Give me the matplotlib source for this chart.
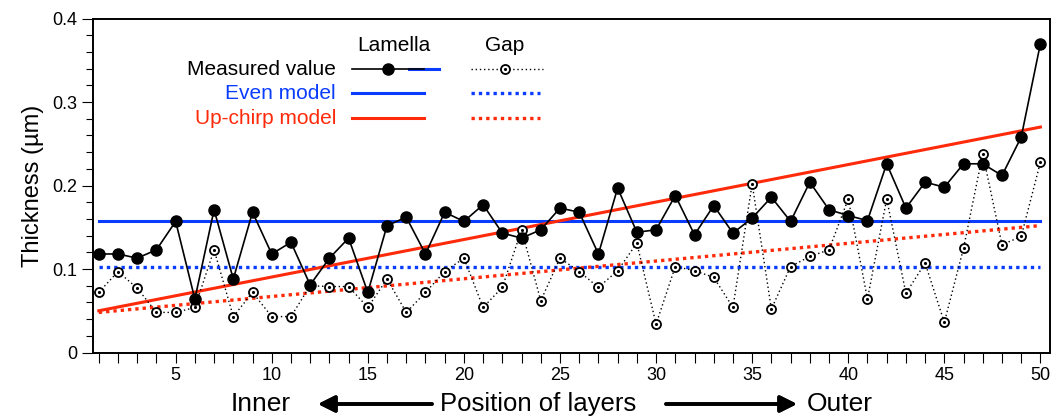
import matplotlib.pyplot as plt
import numpy as np
from matplotlib.ticker import MultipleLocator

plt.rcParams['font.family'] = ['Liberation Sans', 'DejaVu Sans']

# layer positions, innermost = 1
layers = np.arange(1, 51)

lamella = [0.118, 0.118, 0.113, 0.123, 0.157, 0.064, 0.171, 0.088, 0.168, 0.118,
           0.132, 0.081, 0.113, 0.137, 0.072, 0.152, 0.162, 0.118, 0.168, 0.157,
           0.177, 0.143, 0.137, 0.147, 0.173, 0.168, 0.118, 0.197, 0.144, 0.147,
           0.188, 0.141, 0.176, 0.143, 0.161, 0.186, 0.157, 0.204, 0.171, 0.164,
           0.158, 0.226, 0.173, 0.204, 0.198, 0.226, 0.226, 0.212, 0.258, 0.370]

gap = [0.072, 0.097, 0.077, 0.048, 0.048, 0.054, 0.123, 0.043, 0.072, 0.043,
       0.043, 0.080, 0.079, 0.079, 0.054, 0.088, 0.048, 0.072, 0.097, 0.113,
       0.054, 0.078, 0.147, 0.062, 0.113, 0.097, 0.078, 0.098, 0.131, 0.034,
       0.103, 0.098, 0.090, 0.054, 0.202, 0.052, 0.103, 0.115, 0.123, 0.184,
       0.064, 0.184, 0.071, 0.107, 0.036, 0.125, 0.238, 0.129, 0.139, 0.228]

# model values at first and last layer
even_lamella = [0.158, 0.158]
even_gap = [0.102, 0.102]
chirp_lamella = [0.050, 0.270]
chirp_gap = [0.048, 0.152]
model_x = [1, 50]

BLUE = '#0a3cff'
RED = '#ff2a0a'

fig = plt.figure(figsize=(10.63, 4.19), dpi=100)
ax = fig.add_axes([0.0875, 0.1587, 0.9003, 0.7971])

dot = (0, (1, 1.2))

# models
ax.plot(model_x, even_lamella, color=BLUE, lw=2.2, zorder=2)
ax.plot(model_x, even_gap, color=BLUE, lw=2.4, ls=dot, zorder=2)
ax.plot(model_x, chirp_lamella, color=RED, lw=2.2, zorder=2)
ax.plot(model_x, chirp_gap, color=RED, lw=2.4, ls=dot, zorder=2)

# measured gap: open circles with centre dot
ax.plot(layers, gap, color='black', lw=1.0, ls=(0, (1, 2)), marker='o',
        ms=6.5, mfc='white', mec='black', mew=1.3, zorder=3)
ax.plot(layers, gap, ls='none', marker='.', ms=2.5, color='black', zorder=3.5)

# measured lamella
ax.plot(layers, lamella, color='black', lw=1.2, marker='o', ms=8, zorder=4)

ax.set_xlim(0.7, 50.5)
ax.set_ylim(0, 0.4)
ax.set_xticks(np.arange(5, 51, 5))
ax.set_xticks(layers, minor=True)
ax.set_yticks([0, 0.1, 0.2, 0.3, 0.4])
ax.set_yticklabels(['0', '0.1', '0.2', '0.3', '0.4'])
ax.yaxis.set_minor_locator(MultipleLocator(0.02))
ax.tick_params(axis='both', which='both', direction='out', labelsize=13, width=0.8)
ax.tick_params(axis='x', which='both', length=7)
ax.tick_params(axis='y', which='major', length=8)
ax.tick_params(axis='y', which='minor', length=5)
for sp in ax.spines.values():
    sp.set_linewidth(1.4)
ax.set_ylabel('Thickness (µm)', fontsize=17, labelpad=6)

# legend table, positions given in pixels of the axes box
def fx(px):
    return (px - 93) / 957
def fy(py):
    return (352.5 - py) / 334

at = ax.transAxes
ax.text(fx(394), fy(45), 'Lamella', transform=at, ha='center', va='center', fontsize=15)
ax.text(fx(505), fy(45), 'Gap', transform=at, ha='center', va='center', fontsize=15)
rows = [('Measured value', 'black', 69), ('Even model', BLUE, 93), ('Up-chirp model', RED, 118)]
for label, col, py in rows:
    ax.text(fx(336), fy(py), label, transform=at, ha='right', va='center',
            fontsize=15, color=col)

y0 = fy(69)
ax.plot([fx(409), fx(439)], [y0, y0], transform=at, color=BLUE, lw=2.2, zorder=5)
ax.plot([fx(352), fx(424)], [y0, y0], transform=at, color='black', lw=1.2, zorder=5)
ax.plot([fx(388)], [y0], transform=at, marker='o', ms=8, color='black', zorder=5)
ax.plot([fx(471), fx(543)], [y0, y0], transform=at, color='black', lw=1.0,
        ls=(0, (1, 2)), zorder=5)
ax.plot([fx(505)], [y0], transform=at, marker='o', ms=6.5, mfc='white', mec='black',
        mew=1.3, zorder=5)
ax.plot([fx(505)], [y0], transform=at, marker='.', ms=2.5, color='black', zorder=6)

for col, py in [(BLUE, 93), (RED, 118)]:
    yy = fy(py)
    ax.plot([fx(352), fx(424)], [yy, yy], transform=at, color=col, lw=2.2)
    ax.plot([fx(471), fx(540)], [yy, yy], transform=at, color=col, lw=2.4, ls=dot)

# axis caption with direction arrows
W, H = 1063, 419
def fig_xy(px, py):
    return (px / W, 1 - py / H)

fig.text(*fig_xy(261, 404), 'Inner', ha='center', va='center', fontsize=19)
fig.text(*fig_xy(538, 404), 'Position of layers', ha='center', va='center', fontsize=18.5)
fig.text(*fig_xy(840, 404), 'Outer', ha='center', va='center', fontsize=19)
arrow = dict(arrowstyle='-|>,head_length=1.0,head_width=0.5', color='black', lw=2.6,
             shrinkA=0, shrinkB=0)
fig.add_artist(plt.annotate('', xy=fig_xy(318, 404), xytext=fig_xy(432, 404),
                            xycoords='figure fraction', arrowprops=arrow))
fig.add_artist(plt.annotate('', xy=fig_xy(797, 404), xytext=fig_xy(666, 404),
                            xycoords='figure fraction', arrowprops=arrow))

fig.savefig('out.png', dpi=100)
